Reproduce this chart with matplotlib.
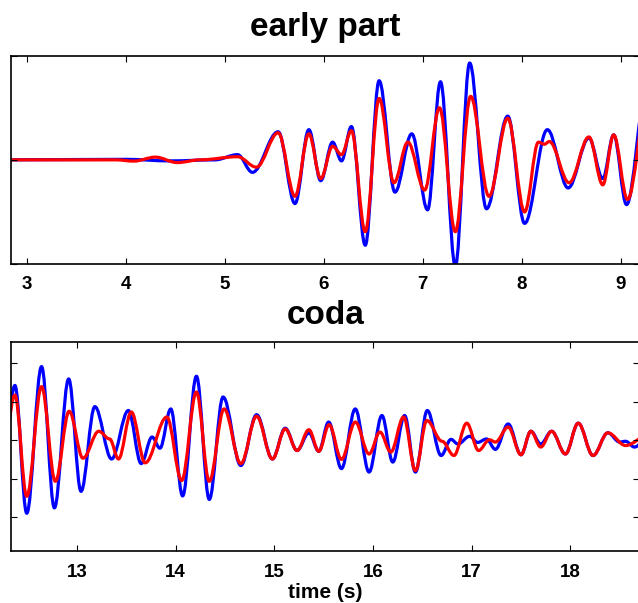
import matplotlib
matplotlib.use('Agg')
import matplotlib.pyplot as plt
from matplotlib.path import Path
from matplotlib.patches import PathPatch

plt.rcParams['font.family'] = ['Liberation Sans', 'DejaVu Sans']
plt.rcParams['font.weight'] = 'bold'

# peaks / troughs of each trace (time in s, amplitude in arbitrary units)
early_t_blue = [2.70, 4.00, 4.45, 4.90, 5.13, 5.28, 5.54, 5.71, 5.85, 5.97, 6.09, 6.18, 6.28,
                6.42, 6.56, 6.72, 6.89, 7.05, 7.18, 7.33, 7.475, 7.645, 7.86, 8.03, 8.26,
                8.47, 8.68, 8.82, 8.93, 9.06, 9.26]
early_v_blue = [0.0, 0.005, -0.01, 0.0, 0.05, -0.12, 0.27, -0.42, 0.29, -0.20, 0.17, -0.01, 0.32,
                -0.82, 0.76, -0.31, 0.25, -0.48, 0.75, -1.02, 0.93, -0.47, 0.42, -0.61, 0.29,
                -0.27, 0.21, -0.18, 0.24, -0.43, 0.65]

early_t_red = [2.70, 3.90, 4.08, 4.30, 4.52, 4.75, 5.13, 5.32, 5.54, 5.71, 5.85, 5.97, 6.09,
               6.18, 6.28, 6.42, 6.56, 6.71, 6.85, 7.02, 7.17, 7.33, 7.485, 7.67, 7.86, 8.03,
               8.17, 8.23, 8.28, 8.48, 8.68, 8.82, 8.93, 9.07, 9.27]
early_v_red = [0.0, 0.0, -0.012, 0.026, -0.026, 0.0, 0.03, -0.07, 0.26, -0.35, 0.25, -0.18, 0.13,
               0.05, 0.28, -0.69, 0.59, -0.22, 0.17, -0.29, 0.50, -0.69, 0.61, -0.35, 0.40, -0.50,
               0.17, 0.15, 0.176, -0.22, 0.22, -0.24, 0.24, -0.38, 0.55]

coda_t_blue = [12.22, 12.37, 12.49, 12.64, 12.77, 12.915, 13.04, 13.18, 13.35, 13.52, 13.65,
               13.76, 13.84, 13.95, 14.07, 14.21, 14.34, 14.48, 14.66, 14.82, 14.98, 15.11,
               15.23, 15.35, 15.45, 15.55, 15.68, 15.82, 15.96, 16.09, 16.20, 16.32, 16.43,
               16.55, 16.69, 16.79, 16.86, 16.98, 17.06, 17.15, 17.24, 17.37, 17.50, 17.60,
               17.70, 17.81, 17.95, 18.08, 18.23, 18.38, 18.50, 18.56, 18.65, 18.78]
coda_v_blue = [-1.5, 1.42, -1.90, 1.91, -1.76, 1.59, -1.33, 0.87, -0.49, 0.77, -0.61,
               0.08, -0.21, 0.81, -1.45, 1.66, -1.54, 1.12, -0.66, 0.66, -0.49, 0.31,
               -0.27, 0.19, -0.29, 0.47, -0.74, 0.81, -0.83, 0.64, -0.57, 0.64, -0.83,
               0.77, -0.40, 0.02, -0.10, 0.10, -0.06, 0.03, -0.24, 0.42, -0.38, 0.23,
               -0.10, 0.23, -0.36, 0.44, -0.40, 0.19, -0.05, -0.03, -0.18, 0.05]

coda_t_red = [12.22, 12.37, 12.49, 12.64, 12.78, 12.92, 13.06, 13.22, 13.33, 13.42, 13.55,
              13.69, 13.91, 14.06, 14.21, 14.34, 14.49, 14.66, 14.82, 14.98, 15.11, 15.23,
              15.35, 15.45, 15.555, 15.68, 15.82, 15.96, 16.07, 16.18, 16.31, 16.43, 16.545,
              16.70, 16.82, 16.95, 17.07, 17.18, 17.24, 17.37, 17.50, 17.60, 17.70, 17.81,
              17.95, 18.08, 18.23, 18.38, 18.56, 18.80]
coda_v_red = [-1.0, 1.17, -1.46, 1.39, -1.07, 0.75, -0.47, 0.23, 0.03, -0.49, 0.73,
              -0.59, 0.60, -1.05, 1.25, -1.07, 0.81, -0.61, 0.62, -0.49, 0.29, -0.27,
              0.27, -0.29, 0.40, -0.50, 0.47, -0.36, 0.21, -0.31, 0.60, -0.79, 0.51,
              -0.03, -0.40, 0.44, -0.27, 0.01, -0.05, 0.34, -0.38, 0.23, -0.18, 0.23,
              -0.36, 0.44, -0.40, 0.19, -0.14, 0.15]

early_ticks = [3, 4, 5, 6, 7, 8, 9]
coda_ticks = [13, 14, 15, 16, 17, 18]


def wave(ax, ts, vs, color):
    # smooth trace through extrema: bezier half-waves with flat tangents at each extremum
    verts = [(ts[0], vs[0])]
    codes = [Path.MOVETO]
    for i in range(1, len(ts)):
        dt = ts[i] - ts[i - 1]
        verts += [(ts[i - 1] + 0.36 * dt, vs[i - 1]), (ts[i] - 0.36 * dt, vs[i]), (ts[i], vs[i])]
        codes += [Path.CURVE4] * 3
    ax.add_patch(PathPatch(Path(verts, codes), fill=False, edgecolor=color, lw=2.3,
                           capstyle='round', joinstyle='round'))


def style(ax):
    ax.tick_params(direction='in', length=4, width=0.8, top=True, right=True,
                   labelsize=13.5, pad=9)
    for s in ax.spines.values():
        s.set_linewidth(1.2)
    ax.set_yticklabels([])


fig = plt.figure(figsize=(6.38, 6.03), dpi=100)
ax1 = fig.add_axes([0.0172, 0.5622, 0.985, 0.3454])
ax2 = fig.add_axes([0.0172, 0.0862, 0.985, 0.3461])

wave(ax1, early_t_blue, early_v_blue, 'blue')
wave(ax1, early_t_red, early_v_red, 'red')
ax1.set_xlim(2.84, 9.19)
ax1.set_ylim(-1, 1)
ax1.set_xticks(early_ticks)
ax1.set_yticks([-1, 0, 1])
style(ax1)
ax1.set_title('early part', fontsize=24, fontweight='bold', pad=14)

wave(ax2, coda_t_blue, coda_v_blue, 'blue')
wave(ax2, coda_t_red, coda_v_red, 'red')
ax2.set_xlim(12.33, 18.70)
ax2.set_ylim(-2.88, 2.54)
ax2.set_xticks(coda_ticks)
ax2.set_yticks([-2, -1, 0, 1, 2])
style(ax2)
ax2.set_title('coda', fontsize=24, fontweight='bold', pad=13)
ax2.set_xlabel('time (s)', fontsize=15, fontweight='bold', labelpad=2)

plt.savefig('out.png', dpi=100)
